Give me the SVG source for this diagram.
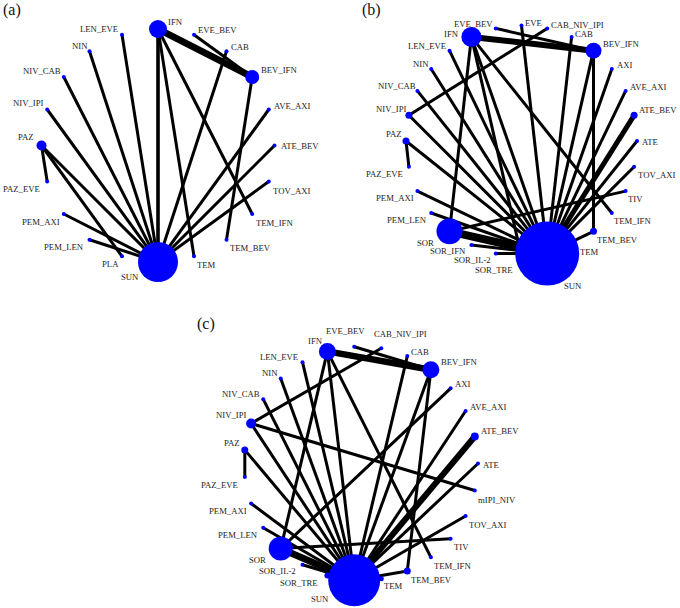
<svg xmlns="http://www.w3.org/2000/svg" width="680" height="608" viewBox="0 0 680 608">
<style>
.bg{fill:#fff}
.e line{stroke:#000;stroke-width:3;stroke-linecap:butt}
.n{fill:#0000ff}
.lb{font-family:"Liberation Serif","Times New Roman",serif;font-size:8.7px;fill:#222}
.pl{font-family:"Liberation Serif","Times New Roman",serif;font-size:16px;fill:#111}
</style>
<rect class="bg" x="0" y="0" width="680" height="608"/>

<!-- Panel (a) -->
<g id="panel-a">
<text class="pl" x="3" y="15">(a)</text>
<g id="a-edges" class="e">
<line x1="194" y1="34.7" x2="252.2" y2="77"/>
<line x1="158" y1="29" x2="158" y2="262" style="stroke-width:3.6"/>
<line x1="158" y1="29" x2="194" y2="256.3"/>
<line x1="158" y1="29" x2="252.2" y2="214"/>
<line x1="226.5" y1="51.3" x2="158" y2="262"/>
<line x1="252.2" y1="77" x2="226.5" y2="239.7"/>
<line x1="268.8" y1="109.5" x2="158" y2="262"/>
<line x1="274.5" y1="145.5" x2="158" y2="262"/>
<line x1="268.8" y1="181.5" x2="158" y2="262"/>
<line x1="89.5" y1="239.7" x2="158" y2="262"/>
<line x1="63.8" y1="214" x2="158" y2="262"/>
<line x1="41.5" y1="145.5" x2="47.2" y2="181.5"/>
<line x1="41.5" y1="145.5" x2="158" y2="262"/>
<line x1="41.5" y1="145.5" x2="122" y2="256.3"/>
<line x1="47.2" y1="109.5" x2="158" y2="262"/>
<line x1="63.8" y1="77" x2="158" y2="262"/>
<line x1="89.5" y1="51.3" x2="158" y2="262"/>
<line x1="122" y1="34.7" x2="158" y2="262"/>
<line x1="158" y1="29" x2="252.2" y2="77" style="stroke-width:7"/>
</g>
<g id="a-IFN"><circle class="n" cx="158" cy="29" r="9"/><text class="lb" x="168" y="25">IFN</text></g>
<g id="a-EVE_BEV"><circle class="n" cx="194" cy="34.7" r="2"/><text class="lb" x="198" y="33">EVE_BEV</text></g>
<g id="a-CAB"><circle class="n" cx="226.5" cy="51.3" r="2"/><text class="lb" x="231" y="50">CAB</text></g>
<g id="a-BEV_IFN"><circle class="n" cx="252.2" cy="77" r="7"/><text class="lb" x="261" y="73">BEV_IFN</text></g>
<g id="a-AVE_AXI"><circle class="n" cx="268.8" cy="109.5" r="2"/><text class="lb" x="274" y="108.5">AVE_AXI</text></g>
<g id="a-ATE_BEV"><circle class="n" cx="274.5" cy="145.5" r="2"/><text class="lb" x="281" y="148.5">ATE_BEV</text></g>
<g id="a-TOV_AXI"><circle class="n" cx="268.8" cy="181.5" r="2"/><text class="lb" x="273" y="193.5">TOV_AXI</text></g>
<g id="a-TEM_IFN"><circle class="n" cx="252.2" cy="214" r="2"/><text class="lb" x="256" y="225.5">TEM_IFN</text></g>
<g id="a-TEM_BEV"><circle class="n" cx="226.5" cy="239.7" r="2"/><text class="lb" x="230" y="251">TEM_BEV</text></g>
<g id="a-TEM"><circle class="n" cx="194" cy="256.3" r="2"/><text class="lb" x="197" y="268">TEM</text></g>
<g id="a-SUN"><circle class="n" cx="158" cy="262" r="20"/><text class="lb" x="121" y="280">SUN</text></g>
<g id="a-PLA"><circle class="n" cx="122" cy="256.3" r="2"/><text class="lb" x="102" y="267">PLA</text></g>
<g id="a-PEM_LEN"><circle class="n" cx="89.5" cy="239.7" r="2"/><text class="lb" x="44" y="250">PEM_LEN</text></g>
<g id="a-PEM_AXI"><circle class="n" cx="63.8" cy="214" r="2"/><text class="lb" x="22" y="224.5">PEM_AXI</text></g>
<g id="a-PAZ_EVE"><circle class="n" cx="47.2" cy="181.5" r="2"/><text class="lb" x="3" y="192">PAZ_EVE</text></g>
<g id="a-PAZ"><circle class="n" cx="41.5" cy="145.5" r="5"/><text class="lb" x="18" y="140">PAZ</text></g>
<g id="a-NIV_IPI"><circle class="n" cx="47.2" cy="109.5" r="2"/><text class="lb" x="13" y="106">NIV_IPI</text></g>
<g id="a-NIV_CAB"><circle class="n" cx="63.8" cy="77" r="2"/><text class="lb" x="23" y="74">NIV_CAB</text></g>
<g id="a-NIN"><circle class="n" cx="89.5" cy="51.3" r="2"/><text class="lb" x="72" y="48.5">NIN</text></g>
<g id="a-LEN_EVE"><circle class="n" cx="122" cy="34.7" r="2"/><text class="lb" x="80" y="32">LEN_EVE</text></g>
</g>

<!-- Panel (b) -->
<g id="panel-b">
<text class="pl" x="362" y="15">(b)</text>
<g id="b-edges" class="e">
<line x1="495.8" y1="28.4" x2="593.5" y2="50.7"/>
<line x1="521.5" y1="25.5" x2="547.2" y2="253.6"/>
<line x1="547.2" y1="28.4" x2="408.9" y2="115.3"/>
<line x1="571.6" y1="36.9" x2="547.2" y2="253.6"/>
<line x1="593.5" y1="50.7" x2="547.2" y2="253.6"/>
<line x1="593.5" y1="50.7" x2="593.5" y2="231.3"/>
<line x1="611.8" y1="69" x2="547.2" y2="253.6"/>
<line x1="625.6" y1="90.9" x2="547.2" y2="253.6"/>
<line x1="637" y1="141" x2="547.2" y2="253.6"/>
<line x1="634.1" y1="166.7" x2="547.2" y2="253.6"/>
<line x1="625.6" y1="191.1" x2="449.5" y2="231.3"/>
<line x1="611.8" y1="213" x2="471.4" y2="36.9"/>
<line x1="593.5" y1="231.3" x2="547.2" y2="253.6"/>
<line x1="471.4" y1="245.1" x2="547.2" y2="253.6"/>
<line x1="495.8" y1="253.6" x2="547.2" y2="253.6"/>
<line x1="431.2" y1="213" x2="547.2" y2="253.6"/>
<line x1="417.4" y1="191.1" x2="547.2" y2="253.6"/>
<line x1="406" y1="141" x2="408.9" y2="166.7"/>
<line x1="406" y1="141" x2="547.2" y2="253.6"/>
<line x1="408.9" y1="115.3" x2="547.2" y2="253.6"/>
<line x1="417.4" y1="90.9" x2="547.2" y2="253.6"/>
<line x1="431.2" y1="69" x2="547.2" y2="253.6"/>
<line x1="449.5" y1="50.7" x2="547.2" y2="253.6"/>
<line x1="471.4" y1="36.9" x2="449.5" y2="231.3"/>
<line x1="471.4" y1="36.9" x2="547.2" y2="253.6"/>
<line x1="471.4" y1="36.9" x2="521.5" y2="256.5"/>
<line x1="634.1" y1="115.3" x2="547.2" y2="253.6" style="stroke-width:5"/>
<line x1="449.5" y1="231.3" x2="547.2" y2="253.6" style="stroke-width:8"/>
<line x1="471.4" y1="36.9" x2="593.5" y2="50.7" style="stroke-width:6"/>
</g>
<g id="b-EVE"><circle class="n" cx="521.5" cy="25.5" r="2"/><text class="lb" x="525" y="25.5">EVE</text></g>
<g id="b-CAB_NIV_IPI"><circle class="n" cx="547.2" cy="28.4" r="2"/><text class="lb" x="551" y="28">CAB_NIV_IPI</text></g>
<g id="b-CAB"><circle class="n" cx="571.6" cy="36.9" r="2"/><text class="lb" x="575" y="36.5">CAB</text></g>
<g id="b-BEV_IFN"><circle class="n" cx="593.5" cy="50.7" r="8"/><text class="lb" x="603" y="46.5">BEV_IFN</text></g>
<g id="b-AXI"><circle class="n" cx="611.8" cy="69" r="2"/><text class="lb" x="617" y="68">AXI</text></g>
<g id="b-AVE_AXI"><circle class="n" cx="625.6" cy="90.9" r="2"/><text class="lb" x="630" y="90">AVE_AXI</text></g>
<g id="b-ATE_BEV"><circle class="n" cx="634.1" cy="115.3" r="3.5"/><text class="lb" x="639" y="113">ATE_BEV</text></g>
<g id="b-ATE"><circle class="n" cx="637" cy="141" r="2"/><text class="lb" x="642" y="145">ATE</text></g>
<g id="b-TOV_AXI"><circle class="n" cx="634.1" cy="166.7" r="2"/><text class="lb" x="638" y="178">TOV_AXI</text></g>
<g id="b-TIV"><circle class="n" cx="625.6" cy="191.1" r="2"/><text class="lb" x="628" y="202">TIV</text></g>
<g id="b-TEM_IFN"><circle class="n" cx="611.8" cy="213" r="2"/><text class="lb" x="614" y="223.5">TEM_IFN</text></g>
<g id="b-TEM_BEV"><circle class="n" cx="593.5" cy="231.3" r="3.5"/><text class="lb" x="597" y="242.5">TEM_BEV</text></g>
<g id="b-TEM"><circle class="n" cx="571.6" cy="245.1" r="2"/><text class="lb" x="580" y="255">TEM</text></g>
<g id="b-SOR_TRE"><circle class="n" cx="521.5" cy="256.5" r="2"/><text class="lb" x="475" y="272.5">SOR_TRE</text></g>
<g id="b-SOR_IL-2"><circle class="n" cx="495.8" cy="253.6" r="2"/><text class="lb" x="454" y="263">SOR_IL-2</text></g>
<g id="b-SOR_IFN"><circle class="n" cx="471.4" cy="245.1" r="2"/><text class="lb" x="430" y="254">SOR_IFN</text></g>
<g id="b-SOR"><circle class="n" cx="449.5" cy="231.3" r="13"/><text class="lb" x="417" y="246">SOR</text></g>
<g id="b-SUN"><circle class="n" cx="547.2" cy="253.6" r="32"/><text class="lb" x="564" y="289">SUN</text></g>
<g id="b-PEM_LEN"><circle class="n" cx="431.2" cy="213" r="2"/><text class="lb" x="387" y="222.5">PEM_LEN</text></g>
<g id="b-PEM_AXI"><circle class="n" cx="417.4" cy="191.1" r="2"/><text class="lb" x="376" y="201">PEM_AXI</text></g>
<g id="b-PAZ_EVE"><circle class="n" cx="408.9" cy="166.7" r="2"/><text class="lb" x="366" y="176.5">PAZ_EVE</text></g>
<g id="b-PAZ"><circle class="n" cx="406" cy="141" r="3.5"/><text class="lb" x="386" y="137">PAZ</text></g>
<g id="b-NIV_IPI"><circle class="n" cx="408.9" cy="115.3" r="3.5"/><text class="lb" x="376" y="112">NIV_IPI</text></g>
<g id="b-NIV_CAB"><circle class="n" cx="417.4" cy="90.9" r="2"/><text class="lb" x="378" y="89">NIV_CAB</text></g>
<g id="b-NIN"><circle class="n" cx="431.2" cy="69" r="2"/><text class="lb" x="413" y="67">NIN</text></g>
<g id="b-LEN_EVE"><circle class="n" cx="449.5" cy="50.7" r="2"/><text class="lb" x="408" y="49">LEN_EVE</text></g>
<g id="b-IFN"><circle class="n" cx="471.4" cy="36.9" r="10"/><text class="lb" x="444" y="37">IFN</text></g>
<g id="b-EVE_BEV"><circle class="n" cx="495.8" cy="28.4" r="2"/><text class="lb" x="454" y="26.5">EVE_BEV</text></g>
</g>

<!-- Panel (c) -->
<g id="panel-c">
<text class="pl" x="197" y="329">(c)</text>
<g id="c-edges" class="e">
<line x1="354.2" y1="346.7" x2="430.9" y2="369.7"/>
<line x1="381.3" y1="348.3" x2="251.1" y2="423.5"/>
<line x1="407.3" y1="356.1" x2="354.2" y2="580.3"/>
<line x1="430.9" y1="369.7" x2="354.2" y2="580.3"/>
<line x1="430.9" y1="369.7" x2="407.3" y2="570.9"/>
<line x1="450.6" y1="388.3" x2="280.7" y2="548.6"/>
<line x1="465.6" y1="411" x2="354.2" y2="580.3"/>
<line x1="478" y1="463.5" x2="354.2" y2="580.3"/>
<line x1="474.8" y1="490.5" x2="251.1" y2="423.5"/>
<line x1="465.6" y1="516" x2="354.2" y2="580.3"/>
<line x1="450.6" y1="538.7" x2="280.7" y2="548.6"/>
<line x1="430.9" y1="557.3" x2="327.4" y2="351.4"/>
<line x1="407.3" y1="570.9" x2="354.2" y2="580.3"/>
<line x1="302.5" y1="564.8" x2="354.2" y2="580.3"/>
<line x1="263.2" y1="527.8" x2="354.2" y2="580.3"/>
<line x1="251.1" y1="503.5" x2="354.2" y2="580.3"/>
<line x1="244.8" y1="449.9" x2="244.8" y2="477.1"/>
<line x1="244.8" y1="449.9" x2="354.2" y2="580.3"/>
<line x1="251.1" y1="423.5" x2="354.2" y2="580.3"/>
<line x1="263.2" y1="399.2" x2="354.2" y2="580.3"/>
<line x1="280.7" y1="378.4" x2="354.2" y2="580.3"/>
<line x1="302.5" y1="362.2" x2="354.2" y2="580.3"/>
<line x1="327.4" y1="351.4" x2="280.7" y2="548.6"/>
<line x1="327.4" y1="351.4" x2="354.2" y2="580.3"/>
<line x1="474.8" y1="436.5" x2="354.2" y2="580.3" style="stroke-width:6"/>
<line x1="280.7" y1="548.6" x2="354.2" y2="580.3" style="stroke-width:7"/>
<line x1="327.4" y1="351.4" x2="430.9" y2="369.7" style="stroke-width:6.5"/>
</g>
<g id="c-IFN"><circle class="n" cx="327.4" cy="351.4" r="8.5"/><text class="lb" x="308" y="344">IFN</text></g>
<g id="c-EVE_BEV"><circle class="n" cx="354.2" cy="346.7" r="2"/><text class="lb" x="326" y="334">EVE_BEV</text></g>
<g id="c-CAB_NIV_IPI"><circle class="n" cx="381.3" cy="348.3" r="2"/><text class="lb" x="374" y="337">CAB_NIV_IPI</text></g>
<g id="c-CAB"><circle class="n" cx="407.3" cy="356.1" r="2"/><text class="lb" x="411" y="354.5">CAB</text></g>
<g id="c-BEV_IFN"><circle class="n" cx="430.9" cy="369.7" r="8.5"/><text class="lb" x="441" y="365">BEV_IFN</text></g>
<g id="c-AXI"><circle class="n" cx="450.6" cy="388.3" r="2"/><text class="lb" x="455" y="387">AXI</text></g>
<g id="c-AVE_AXI"><circle class="n" cx="465.6" cy="411" r="2"/><text class="lb" x="470" y="410">AVE_AXI</text></g>
<g id="c-ATE_BEV"><circle class="n" cx="474.8" cy="436.5" r="4"/><text class="lb" x="481" y="434">ATE_BEV</text></g>
<g id="c-ATE"><circle class="n" cx="478" cy="463.5" r="2"/><text class="lb" x="483" y="467.5">ATE</text></g>
<g id="c-mIPI_NIV"><circle class="n" cx="474.8" cy="490.5" r="2"/><text class="lb" x="478" y="502.5">mIPI_NIV</text></g>
<g id="c-TOV_AXI"><circle class="n" cx="465.6" cy="516" r="2"/><text class="lb" x="469" y="527.5">TOV_AXI</text></g>
<g id="c-TIV"><circle class="n" cx="450.6" cy="538.7" r="2"/><text class="lb" x="454" y="550">TIV</text></g>
<g id="c-TEM_IFN"><circle class="n" cx="430.9" cy="557.3" r="2"/><text class="lb" x="434" y="569">TEM_IFN</text></g>
<g id="c-TEM_BEV"><circle class="n" cx="407.3" cy="570.9" r="3.5"/><text class="lb" x="411" y="583">TEM_BEV</text></g>
<g id="c-TEM"><circle class="n" cx="381.3" cy="578.7" r="2.5"/><text class="lb" x="384" y="589">TEM</text></g>
<g id="c-SOR_TRE"><circle class="n" cx="327.4" cy="575.6" r="3"/><text class="lb" x="280" y="586">SOR_TRE</text></g>
<g id="c-SUN"><circle class="n" cx="354.2" cy="580.3" r="26"/><text class="lb" x="311" y="601.5">SUN</text></g>
<g id="c-SOR_IL-2"><circle class="n" cx="302.5" cy="564.8" r="2"/><text class="lb" x="259" y="574">SOR_IL-2</text></g>
<g id="c-SOR"><circle class="n" cx="280.7" cy="548.6" r="12"/><text class="lb" x="249" y="563">SOR</text></g>
<g id="c-PEM_LEN"><circle class="n" cx="263.2" cy="527.8" r="2"/><text class="lb" x="218" y="538">PEM_LEN</text></g>
<g id="c-PEM_AXI"><circle class="n" cx="251.1" cy="503.5" r="2"/><text class="lb" x="209" y="513.5">PEM_AXI</text></g>
<g id="c-PAZ_EVE"><circle class="n" cx="244.8" cy="477.1" r="2"/><text class="lb" x="201" y="487.5">PAZ_EVE</text></g>
<g id="c-PAZ"><circle class="n" cx="244.8" cy="449.9" r="3.5"/><text class="lb" x="224" y="445.5">PAZ</text></g>
<g id="c-NIV_IPI"><circle class="n" cx="251.1" cy="423.5" r="5"/><text class="lb" x="216" y="418">NIV_IPI</text></g>
<g id="c-NIV_CAB"><circle class="n" cx="263.2" cy="399.2" r="2"/><text class="lb" x="222" y="397">NIV_CAB</text></g>
<g id="c-NIN"><circle class="n" cx="280.7" cy="378.4" r="2"/><text class="lb" x="262" y="376">NIN</text></g>
<g id="c-LEN_EVE"><circle class="n" cx="302.5" cy="362.2" r="2"/><text class="lb" x="260" y="360">LEN_EVE</text></g>
</g>
</svg>
